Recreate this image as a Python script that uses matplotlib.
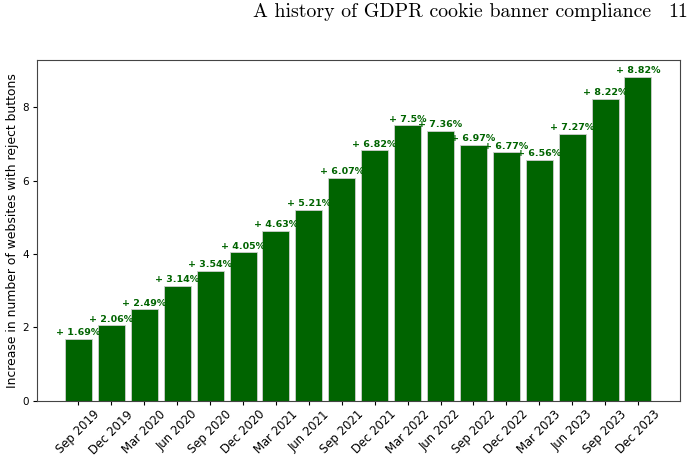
import matplotlib
matplotlib.use("Agg")
import matplotlib.pyplot as plt
import numpy as np

# quarters and increase values (percent)
quarters = ["Sep 2019", "Dec 2019", "Mar 2020", "Jun 2020", "Sep 2020", "Dec 2020",
            "Mar 2021", "Jun 2021", "Sep 2021", "Dec 2021", "Mar 2022", "Jun 2022",
            "Sep 2022", "Dec 2022", "Mar 2023", "Jun 2023", "Sep 2023", "Dec 2023"]
increase = [1.69, 2.06, 2.49, 3.14, 3.54, 4.05, 4.63, 5.21, 6.07,
            6.82, 7.5, 7.36, 6.97, 6.77, 6.56, 7.27, 8.22, 8.82]

fig = plt.figure(figsize=(6.94, 4.59), dpi=100)
ax = fig.add_axes([0.0533, 0.1264, 0.9267, 0.7429])

x = np.arange(len(quarters))
ax.bar(x, increase, width=0.82, color="darkgreen", edgecolor="#cfcfcf", linewidth=0.6)

for xi, v in zip(x, increase):
    ax.text(xi, v + 0.04, "+ " + str(v) + "%", ha="center", va="bottom",
            color="darkgreen", fontsize=6.8, fontweight="bold")

ax.set_xticks(x)
ax.set_xticklabels(quarters, rotation=45, fontsize=8.4)
ax.tick_params(axis="x", length=3, pad=2)
ax.set_xlim(-1.26, 18.28)
ax.set_ylim(0, 9.28)
ax.set_yticks([0, 2, 4, 6, 8])
ax.tick_params(axis="y", labelsize=7.5, length=3, pad=3)
ax.set_ylabel("Increase in number of websites with reject buttons", fontsize=8.9)
ax.yaxis.set_label_coords(-0.028, 0.5)
for s in ax.spines.values():
    s.set_color("#444444")

# page header of the paper
fig.text(0.938, 0.962, "A history of GDPR cookie banner compliance", ha="right",
         va="baseline", family="cmr10", fontsize=14.3)
fig.text(0.991, 0.962, "11", ha="right", va="baseline", family="cmr10", fontsize=14.3)

fig.savefig("out.png", dpi=100)
